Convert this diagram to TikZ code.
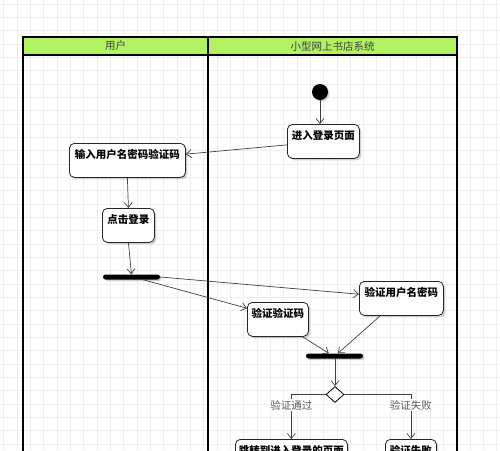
\documentclass[tikz,border=0pt]{standalone}
\usepackage{fontspec}
\newfontfamily\cjk{Noto Sans CJK SC}
\usetikzlibrary{arrows.meta,shapes.geometric,shadows,calc}
\definecolor{hdrgreen}{RGB}{178,242,98}
\definecolor{gridc}{RGB}{238,238,238}
\begin{document}
\begin{tikzpicture}[x=1pt,y=-1pt,
  box/.style={draw=black!85, line width=0.8pt, rounded corners=5pt, fill=white,
    anchor=north west, minimum height=34pt, inner ysep=3pt, inner xsep=2pt,
    text height=12pt, text depth=16pt,
    font=\cjk\bfseries\fontsize{10.5}{12}\selectfont,
    drop shadow={shadow xshift=2pt, shadow yshift=-2pt, opacity=0.18, fill=black}},
  bar/.style={fill=black, rounded corners=2.5pt, minimum height=5pt, inner sep=0pt,
    drop shadow={shadow xshift=1.5pt, shadow yshift=-1.5pt, opacity=0.18, fill=black}},
  conn/.style={draw=black!75, line width=0.7pt, -{Straight Barb[length=5pt,width=8pt]}},
  lbl/.style={font=\cjk\fontsize{10.5}{12}\selectfont, text=black!65, fill=white, inner sep=1pt},
  hdr/.style={font=\cjk\fontsize{10.5}{12}\selectfont, text=black!75, inner sep=0pt}
]
\useasboundingbox (0,0) rectangle (500,450);
\clip (0,0) rectangle (500,450);
\fill[white] (0,0) rectangle (500,450);
% grid
\foreach \i in {0,...,37} {
  \draw[gridc, line width=0.5pt] ({3.5+13.33*\i},0) -- ({3.5+13.33*\i},450);
}
\foreach \j in {0,...,34} {
  \draw[gridc, line width=0.5pt] (0,{4+13.33*\j}) -- (500,{4+13.33*\j});
}
% swimlanes
\fill[hdrgreen] (23,37) rectangle (457,55);
\draw[line width=1.8pt] (23,470) -- (23,37) -- (457,37) -- (457,470);
\draw[line width=1.8pt] (23,55) -- (457,55);
\draw[line width=1.8pt] (208,37) -- (208,470);
\node[hdr] (h1) at (115.5,46) {用户};
\node[hdr] (h2) at (332.5,46) {小型网上书店系统};
% nodes
\node[circle, fill=black, minimum size=16pt, inner sep=0pt,
  drop shadow={shadow xshift=1.5pt, shadow yshift=-1.5pt, opacity=0.18, fill=black}] (start) at (320,92) {};
\node[box, minimum width=72pt] (lp) at (287,124) {进入登录页面};
\node[box, minimum width=116pt] (inp) at (69,143) {输入用户名密码验证码};
\node[box, minimum width=52pt] (click) at (102,208) {点击登录};
\node[bar, minimum width=57pt] (bar1) at (131.5,277) {};
\node[box, minimum width=84pt] (vup) at (359,281) {验证用户名密码};
\node[box, minimum width=61pt] (vcode) at (247,302) {验证验证码};
\node[bar, minimum width=57pt] (bar2) at (334.5,356) {};
\node[diamond, draw=black, line width=0.8pt, fill=white, minimum width=18pt, minimum height=16pt, inner sep=0pt] (dia) at (335,394.5) {};
\node[box, minimum width=112pt] (jump) at (235,439) {跳转到进入登录的页面};
\node[box, minimum width=51pt] (fail) at (385,439) {验证失败};
% connectors
\draw[conn] (start) -- (start |- lp.north);
\draw[conn] ($(lp.north west)!0.6!(lp.south west)$) -- ($(inp.north east)!0.32!(inp.south east)$);
\draw[conn] (inp.south) -- (click.north);
\draw[conn] (click.south) -- (bar1.north);
\draw[conn] (bar1.east) -- ($(vup.north west)!0.38!(vup.south west)$);
\draw[conn] ($(bar1.south west)!0.7!(bar1.south east)$) -- ($(vcode.north west)!0.18!(vcode.south west)$);
\draw[conn] ($(vcode.south west)!0.9!(vcode.south east)$) -- ($(bar2.north west)!0.4!(bar2.north east)$);
\draw[conn] ($(vup.south west)!0.25!(vup.south east)$) -- ($(bar2.north west)!0.56!(bar2.north east)$);
\draw[conn] (bar2.south -| dia) -- (dia.north);
\draw[conn] (dia.west) -| node[lbl, pos=0.62] (l1) {验证通过} (jump.north);
\draw[conn] (dia.east) -| node[lbl, pos=0.62] (l2) {验证失败} (fail.north);
\end{tikzpicture}
\end{document}
